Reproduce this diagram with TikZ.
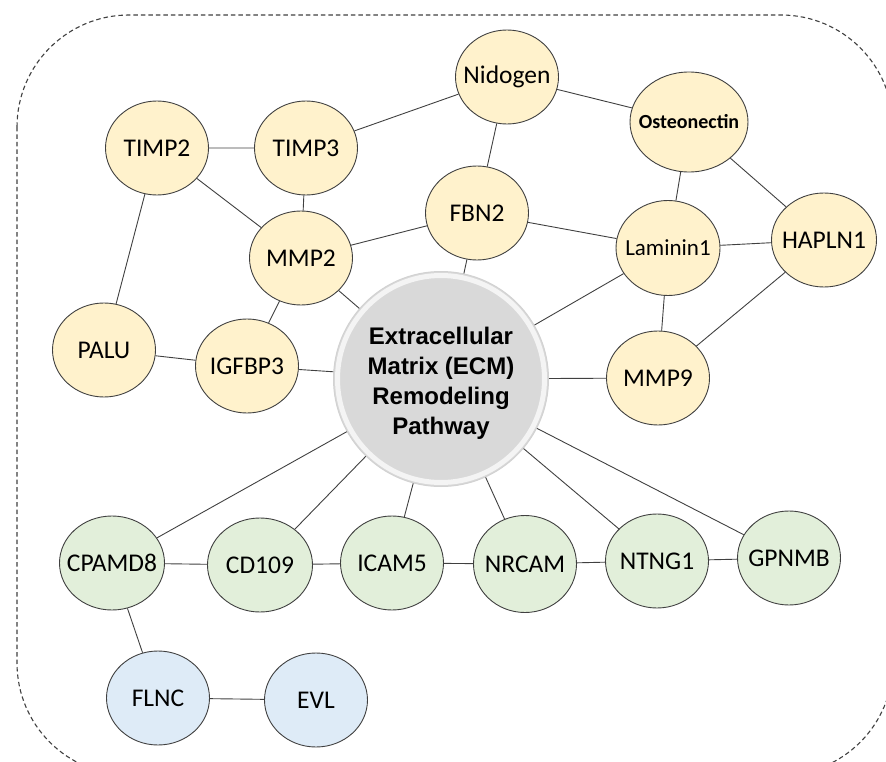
\documentclass[tikz,border=0pt]{standalone}
\usepackage{fontspec}
\setmainfont{Carlito}
\newfontfamily\arialfont{Liberation Sans}
\usetikzlibrary{shapes.geometric}
\definecolor{ylw}{HTML}{FFF2CC}
\definecolor{grn}{HTML}{E2EFDA}
\definecolor{blu}{HTML}{DEEBF7}
\definecolor{edg}{HTML}{404040}
\definecolor{ctr}{HTML}{D9D9D9}
\newcommand{\gl}[1]{\makebox[0pt][c]{#1}}
\begin{document}
\begin{tikzpicture}[x=1pt,y=-1pt,
  gene/.style={ellipse, draw=edg, line width=0.9pt, minimum width=103pt, minimum height=94pt, inner sep=0pt, font=\fontsize{25.5}{28}\selectfont},
  yel/.style={gene, fill=ylw},
  gre/.style={gene, fill=grn},
  blue/.style={gene, fill=blu},
  link/.style={draw=edg, line width=0.9pt}]
\useasboundingbox (0,0) rectangle (886,762);
\begin{scope}
\clip (0,0) rectangle (886,762);
\draw[dash pattern=on 4.5pt off 3pt, line width=1.1pt, draw=edg, rounded corners=112pt] (17,15) rectangle (893,775);
\end{scope}
% nodes
\node[yel] (nid) at (507,77) {\gl{Nidogen}};
\node[yel] (timp2) at (157,148) {\gl{TIMP2}};
\node[yel] (timp3) at (306,148) {\gl{TIMP3}};
\node[yel, minimum width=118pt, minimum height=100pt, font=\bfseries\fontsize{20}{22}\selectfont] (ost) at (689,122) {\gl{Osteonectin}};
\node[yel] (fbn2) at (477,213) {\gl{FBN2}};
\node[yel] (mmp2) at (301,258) {\gl{MMP2}};
\node[yel, minimum width=104pt, minimum height=95pt, font=\fontsize{23}{25}\selectfont] (lam) at (668,248) {\gl{Laminin1}};
\node[yel, minimum width=105pt] (hap) at (824,240) {\gl{HAPLN1}};
\node[yel] (palu) at (104,350) {\gl{PALU}};
\node[yel] (igf) at (247,366) {\gl{IGFBP3}};
\node[yel] (mmp9) at (658,378) {\gl{MMP9}};
\node[gre, minimum width=105pt] (cpa) at (112,563) {\gl{CPAMD8}};
\node[gre, minimum width=105pt] (cd) at (260,565) {\gl{CD109}};
\node[gre] (icam) at (392,563) {\gl{ICAM5}};
\node[gre, minimum height=97pt] (nrc) at (525,564) {\gl{NRCAM}};
\node[gre] (ntn) at (657,561) {\gl{NTNG1}};
\node[gre] (gpn) at (789,558) {\gl{GPNMB}};
\node[blue] (flnc) at (158,698) {\gl{FLNC}};
\node[blue] (evl) at (316,700) {\gl{EVL}};
% center
\node[circle, minimum size=215pt, inner sep=0pt, fill=ctr, draw=gray!35, line width=1pt] (ecm) at (441,379) {};
\draw[white!70!ctr, line width=5pt] (ecm.center) circle (103.5pt);
\node[align=center, font=\arialfont\bfseries\fontsize{24}{30}\selectfont] at (441,383) {Extracellular\\Matrix (ECM)\\Remodeling\\Pathway};
% edges
\path[link]
 (timp2) -- (timp3)
 (timp3) -- (nid)
 (nid) -- (ost)
 (nid) -- (fbn2)
 (ost) -- (lam)
 (ost) -- (hap)
 (timp2) -- (mmp2)
 (timp3) -- (mmp2)
 (timp2) -- (palu)
 (fbn2) -- (mmp2)
 (fbn2) -- (lam)
 (fbn2) -- (ecm)
 (lam) -- (hap)
 (lam) -- (ecm)
 (lam) -- (mmp9)
 (hap) -- (mmp9)
 (mmp2) -- (igf)
 (mmp2) -- (ecm)
 (palu) -- (igf)
 (igf) -- (ecm)
 (ecm) -- (mmp9)
 (ecm) -- (cpa)
 (ecm) -- (cd)
 (ecm) -- (icam)
 (ecm) -- (nrc)
 (ecm) -- (ntn)
 (ecm) -- (gpn)
 (cpa) -- (cd)
 (cd) -- (icam)
 (icam) -- (nrc)
 (nrc) -- (ntn)
 (ntn) -- (gpn)
 (cpa) -- (flnc)
 (flnc) -- (evl);
\end{tikzpicture}
\end{document}
